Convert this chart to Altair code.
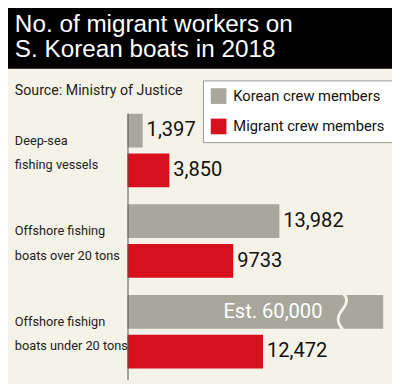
import altair as alt
import pandas as pd

# ---- data ----
groups = ["Deep-sea fishing vessels",
          "Offshore fishing boats over 20 tons",
          "Offshore fishign boats under 20 tons"]
group_lines = [["Deep-sea", "fishing vessels"],
               ["Offshore fishing", "boats over 20 tons"],
               ["Offshore fishign", "boats under 20 tons"]]
series = ["Korean crew members", "Migrant crew members"]
korean = [1397, 13982, 60000]
migrant = [3850, 9733, 12472]
korean_labels = ["1,397", "13,982", "Est. 60,000"]
migrant_labels = ["3,850", "9733", "12,472"]
korean_truncated = [False, False, True]
title_lines = ["No. of migrant workers on", "S. Korean boats in 2018"]
source_text = "Source: Ministry of Justice"

# axis display cut-off (bars above this are drawn broken)
X_MAX = 23540
BREAK_AT = 19750

GRAY = "#a8a79b"
RED = "#d7101e"
BG = "#f5f3e7"
FONT = "Roboto"

rows = []
for g, k, m, kl, ml, kt in zip(groups, korean, migrant, korean_labels, migrant_labels, korean_truncated):
    rows.append({"group": g, "series": series[0], "value": k, "label": kl, "trunc": kt})
    rows.append({"group": g, "series": series[1], "value": m, "label": ml, "trunc": False})
df = pd.DataFrame(rows)
df["break_at"] = BREAK_AT

lab_df = pd.DataFrame({"group": groups, "lines": group_lines})

xs = alt.Scale(domain=[0, X_MAX], range=[122, 383], clamp=True)
ys = alt.Scale(domain=groups, range=[104, 364], paddingInner=0.19, paddingOuter=0)
yo = alt.Scale(domain=series, paddingInner=0.15, paddingOuter=0)

base = alt.Chart(df)

bars = base.mark_bar().encode(
    x=alt.X("value:Q", scale=xs, axis=None),
    y=alt.Y("group:N", scale=ys, axis=None),
    yOffset=alt.YOffset("series:N", scale=yo),
    color=alt.Color("series:N", scale=alt.Scale(domain=series, range=[GRAY, RED]),
                    legend=alt.Legend(title=None, orient="none", legendX=199, legendY=70,
                                      direction="vertical", symbolType="square",
                                      symbolSize=256, symbolStrokeWidth=0,
                                      labelFont=FONT, labelFontSize=15, labelColor="#111",
                                      labelLimit=220, labelOffset=7, rowPadding=15, padding=8,
                                      fillColor="#ffffff", strokeColor="#999999")),
)

vals = base.transform_filter("!datum.trunc").mark_text(
    align="left", baseline="middle", dx=4, font=FONT, fontSize=20.5, color="#111"
).encode(
    x=alt.X("value:Q", scale=xs),
    y=alt.Y("group:N", scale=ys),
    yOffset=alt.YOffset("series:N", scale=yo),
    text="label:N",
)

inside = base.transform_filter("datum.trunc").mark_text(
    align="right", baseline="middle", dx=-62, font=FONT, fontSize=20.5, color="#ffffff"
).encode(
    x=alt.X("value:Q", scale=xs),
    y=alt.Y("group:N", scale=ys),
    yOffset=alt.YOffset("series:N", scale=yo),
    text="label:N",
)

brk = base.transform_filter("datum.trunc").mark_point(
    shape="M0.1,-1 C0.35,-0.75 0.3,-0.5 0,-0.1 C-0.3,0.3 -0.3,0.6 0.05,1",
    filled=False, stroke=BG, strokeWidth=3, size=1300, opacity=1
).encode(
    x=alt.X("break_at:Q", scale=xs),
    y=alt.Y("group:N", scale=ys),
    yOffset=alt.YOffset("series:N", scale=yo),
)

cat = alt.Chart(lab_df).mark_text(
    align="left", baseline="middle", dy=-10, font=FONT, fontSize=13, lineHeight=25, color="#222"
).encode(
    x=alt.value(7),
    y=alt.Y("group:N", scale=ys),
    text="lines",
)

one = pd.DataFrame({"a": [0]})
band = alt.Chart(one).mark_rect(color="#000000").encode(
    x=alt.value(-8), x2=alt.value(392), y=alt.value(-8), y2=alt.value(58))
title = alt.Chart(pd.DataFrame({"t": [title_lines]})).mark_text(
    align="left", baseline="alphabetic", font="Liberation Sans", fontSize=24.8, lineHeight=25,
    color="#ffffff").encode(x=alt.value(7), y=alt.value(21), text="t")
source = alt.Chart(pd.DataFrame({"t": [source_text]})).mark_text(
    align="left", baseline="alphabetic", font=FONT, fontSize=14.5, color="#222").encode(
    x=alt.value(7), y=alt.value(85), text="t:N")
axis_line = alt.Chart(one).mark_rule(color="#555555", strokeWidth=1).encode(
    x=alt.value(122.5), y=alt.value(104), y2=alt.value(376))

chart = alt.layer(band, title, source, bars, brk, vals, inside, cat, axis_line).properties(
    width=392, height=376, padding=0, autosize="none", background=BG
).configure_view(stroke=None)

chart.save("out.html", embed_options={"renderer": "svg", "actions": False})
